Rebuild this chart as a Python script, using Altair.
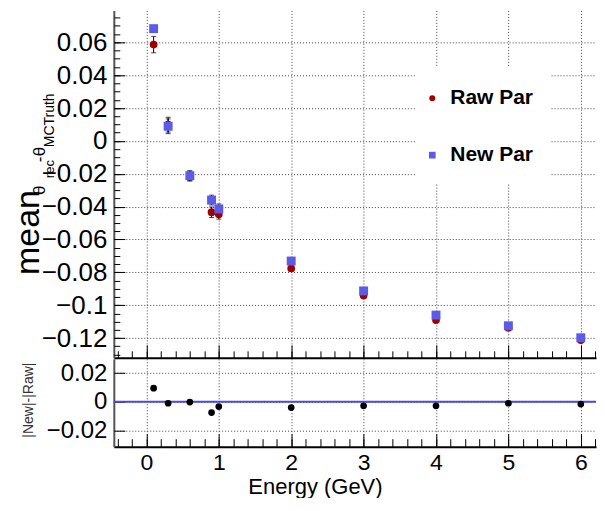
import altair as alt
import numpy as np
import pandas as pd

# ---------------- data ----------------
energy = [0.1, 0.3, 0.6, 0.9, 1.0, 2.0, 3.0, 4.0, 5.0, 6.0]
raw_mean = [0.0586, 0.0099, -0.0214, -0.0434, -0.0446, -0.0776, -0.0941, -0.1090, -0.1137, -0.1212]
raw_err = [0.0050, 0.0045, 0.0030, 0.0032, 0.0030, 0.0015, 0.0010, 0.0010, 0.0008, 0.0008]
new_mean = [0.0683, 0.0089, -0.0212, -0.0360, -0.0414, -0.0731, -0.0913, -0.1060, -0.1125, -0.1198]
new_err = [0.0015, 0.0045, 0.0030, 0.0030, 0.0030, 0.0015, 0.0010, 0.0010, 0.0008, 0.0008]
diff = [0.0095, -0.0010, -0.0002, -0.0075, -0.0033, -0.0040, -0.0028, -0.0028, -0.0010, -0.0016]
series_names = ["Raw Par", "New Par"]
x_ticks = [0, 1, 2, 3, 4, 5, 6]
top_y_ticks = [-0.12, -0.1, -0.08, -0.06, -0.04, -0.02, 0, 0.02, 0.04, 0.06]
bot_y_ticks = [-0.02, 0, 0.02]

# ---------------- layout / style ----------------
W, H_TOP, H_BOT = 483, 348, 88
X_DOM = [-0.45, 6.21]
TOP_DOM = [-0.132, 0.0794]
BOT_DOM = [-0.0313, 0.030]
RED = "#a00000"
BLUE = "#5b5be8"
GRID = dict(grid=True, gridDash=[1, 2], gridColor="#444444", gridWidth=1)
FONT = "Liberation Sans"

x_minor = [round(v, 1) for v in np.arange(-0.4, 6.21, 0.2)]
y_minor_top = [round(v, 3) for v in np.arange(-0.130, 0.0791, 0.005)]

xs = alt.Scale(domain=X_DOM, nice=False, zero=False)
ys_top = alt.Scale(domain=TOP_DOM, nice=False, zero=False)
ys_bot = alt.Scale(domain=BOT_DOM, nice=False, zero=False)


def in_x(values, size, H):
    return alt.Axis(orient="top", offset=-H, values=values, tickSize=size, tickColor="black",
                    tickWidth=1, labels=False, domain=False, grid=False, title=None)


def in_y(values, size):
    return alt.Axis(orient="right", offset=-W, values=values, tickSize=size, tickColor="black",
                    tickWidth=1, labels=False, domain=False, grid=False, title=None)


def y_main(values, fs):
    return alt.Axis(values=values, format="~g", labelFontSize=fs, labelFont=FONT, labelColor="black",
                    labelPadding=7, labelOverlap=False, labelFlush=False, ticks=False, tickSize=0,
                    domain=True, domainColor="#555555", domainWidth=2, title=None, **GRID)


raw_df = pd.DataFrame({"energy": energy, "mean": raw_mean, "err": raw_err})
new_df = pd.DataFrame({"energy": energy, "mean": new_mean, "err": new_err})
for d in (raw_df, new_df):
    d["lo"] = d["mean"] - d["err"]
    d["hi"] = d["mean"] + d["err"]
raw_caps = pd.DataFrame({"energy": energy * 2, "y": list(raw_df["lo"]) + list(raw_df["hi"])})
new_caps = pd.DataFrame({"energy": energy * 2, "y": list(new_df["lo"]) + list(new_df["hi"])})
diff_df = pd.DataFrame({"energy": energy, "diff": diff})
zero_df = pd.DataFrame({"y": [0.0]})
one = pd.DataFrame({"a": [0]})

# ---------------- top panel ----------------
ax_x_top_main = alt.Axis(values=x_ticks, labels=False, ticks=False, tickSize=0, domain=True,
                         domainColor="black", domainWidth=2, title=None, **GRID)

raw_rule = alt.Chart(raw_df).mark_rule(color="black", strokeWidth=1).encode(
    x=alt.X("energy:Q", scale=xs, axis=ax_x_top_main),
    y=alt.Y("lo:Q", scale=ys_top, axis=y_main(top_y_ticks, 26)),
    y2="hi:Q")
raw_cap = alt.Chart(raw_caps).mark_tick(orient="horizontal", size=5, thickness=1, color="black").encode(
    x=alt.X("energy:Q", scale=xs, axis=in_x(x_ticks, 13, H_TOP)),
    y=alt.Y("y:Q", scale=ys_top, axis=in_y(top_y_ticks, 11)))
new_rule = alt.Chart(new_df).mark_rule(color="black", strokeWidth=1).encode(
    x=alt.X("energy:Q", scale=xs, axis=in_x(x_minor, 7, H_TOP)),
    y=alt.Y("lo:Q", scale=ys_top, axis=in_y(y_minor_top, 6)),
    y2="hi:Q")
new_cap = alt.Chart(new_caps).mark_tick(orient="horizontal", size=5, thickness=1, color="black").encode(
    x=alt.X("energy:Q", scale=xs, axis=None),
    y=alt.Y("y:Q", scale=ys_top, axis=None))
raw_pts = alt.Chart(raw_df).mark_point(filled=True, shape="circle", size=60, color=RED, opacity=1).encode(
    x=alt.X("energy:Q", scale=xs, axis=None),
    y=alt.Y("mean:Q", scale=ys_top, axis=None))
new_pts = alt.Chart(new_df).mark_point(filled=True, shape="square", size=80, color=BLUE, opacity=1).encode(
    x=alt.X("energy:Q", scale=xs, axis=None),
    y=alt.Y("mean:Q", scale=ys_top, axis=None))

leg_bg = alt.Chart(one).mark_rect(fill="white").encode(
    x=alt.value(302), x2=alt.value(437), y=alt.value(56), y2=alt.value(174))
leg_raw_m = alt.Chart(one).mark_point(filled=True, shape="circle", size=36, color=RED, opacity=1).encode(
    x=alt.value(319), y=alt.value(88))
leg_new_m = alt.Chart(one).mark_point(filled=True, shape="square", size=45, color=BLUE, opacity=1).encode(
    x=alt.value(319), y=alt.value(145))
leg_raw_t = alt.Chart(one).mark_text(text=series_names[0], align="left", baseline="middle", fontSize=21,
                                     fontWeight="bold", font=FONT, color="black").encode(
    x=alt.value(337), y=alt.value(88))
leg_new_t = alt.Chart(one).mark_text(text=series_names[1], align="left", baseline="middle", fontSize=21,
                                     fontWeight="bold", font=FONT, color="black").encode(
    x=alt.value(337), y=alt.value(145))


def rot_text(txt, fs, x, y, color="black"):
    return alt.Chart(one).mark_text(text=txt, angle=270, align="left", baseline="alphabetic",
                                    fontSize=fs, font=FONT, color=color).encode(
        x=alt.value(x), y=alt.value(y))


title_parts = [
    rot_text("mean", 34, -75, 265),
    rot_text("θ", 17, -69, 185),
    rot_text("rec", 13, -60, 168),
    rot_text("-", 17, -69, 152),
    rot_text("θ", 17, -69, 146),
    rot_text("MCTruth", 14, -60, 137),
]

top = alt.layer(raw_rule, raw_cap, new_rule, new_cap, raw_pts, new_pts,
                leg_bg, leg_raw_m, leg_new_m, leg_raw_t, leg_new_t, *title_parts).resolve_axis(
    x="independent", y="independent").properties(width=W, height=H_TOP)

# ---------------- bottom (difference) panel ----------------
ax_x_bot_main = alt.Axis(values=x_ticks, format="d", labelFontSize=23, labelFont=FONT, labelColor="black",
                         labelPadding=5, labelOverlap=False, labelFlush=False, ticks=False, tickSize=0,
                         domain=True, domainColor="black", domainWidth=2,
                         title="Energy (GeV)", titleFontSize=22, titleFont=FONT, titleFontWeight="normal",
                         titleColor="black", titleX=201.5, titleY=47, titleAlign="center",
                         titleBaseline="alphabetic", **GRID)

zero_line = alt.Chart(zero_df).mark_rule(color="#4a4ae6", strokeWidth=2).encode(
    y=alt.Y("y:Q", scale=ys_bot, axis=y_main(bot_y_ticks, 24)))
diff_pts = alt.Chart(diff_df).mark_point(filled=True, shape="circle", size=45, color="black", opacity=1).encode(
    x=alt.X("energy:Q", scale=xs, axis=ax_x_bot_main),
    y=alt.Y("diff:Q", scale=ys_bot, axis=in_y(bot_y_ticks, 11)))
dummy_major = alt.Chart(diff_df).mark_point(opacity=0).encode(
    x=alt.X("energy:Q", scale=xs, axis=in_x(x_ticks, 13, H_BOT)),
    y=alt.Y("diff:Q", scale=ys_bot, axis=None))
dummy_minor = alt.Chart(diff_df).mark_point(opacity=0).encode(
    x=alt.X("energy:Q", scale=xs, axis=in_x(x_minor, 8, H_BOT)),
    y=alt.Y("diff:Q", scale=ys_bot, axis=None))
bot_title = rot_text("|New|-|Raw|", 14, -81, 79, color="#333333")

bottom = alt.layer(zero_line, diff_pts, dummy_major, dummy_minor, bot_title).resolve_axis(
    x="independent", y="independent").properties(width=W, height=H_BOT)

chart = alt.vconcat(top, bottom, spacing=1, bounds="flush").properties(
    padding={"left": 4, "top": 2, "right": 0, "bottom": 0}
).configure(font=FONT).configure_view(stroke=None)

chart.save("out.html", embed_options={"renderer": "svg", "actions": False})
